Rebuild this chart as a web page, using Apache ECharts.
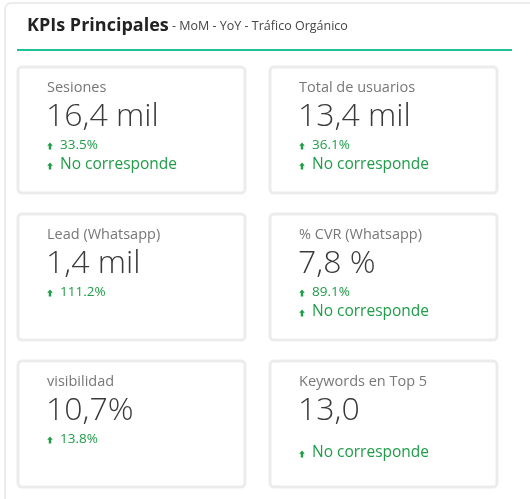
<!DOCTYPE html><html><head><meta charset="utf-8">
<script src="https://cdn.jsdelivr.net/npm/echarts@6/dist/echarts.min.js"></script>
<style>html,body{margin:0;background:#fff}#c{width:530px;height:499px}</style></head><body><div id="c"></div>
<script>
const labels=["Sesiones","Total de usuarios","Lead (Whatsapp)","% CVR (Whatsapp)","visibilidad","Keywords en Top 5"];
const values=["16,4 mil","13,4 mil","1,4 mil","7,8 %","10,7%","13,0"];
const changes=["33.5%","36.1%","111.2%","89.1%","13.8%",null];
const yoy=["No corresponde","No corresponde",null,"No corresponde",null,"No corresponde"];
const F="'Open Sans', sans-serif", G="#1f9d48";
const chart=echarts.init(document.getElementById('c'));
const els=[
 {type:'rect',shape:{x:5,y:3,width:540,height:520,r:6},style:{fill:'#fff',stroke:'#e6e6e6',lineWidth:1.5}},
 {type:'text',x:27,y:26,style:{text:'{b|KPIs Principales} {s|- MoM - YoY - Tráfico Orgánico}',verticalAlign:'middle',rich:{b:{fontFamily:F,fontWeight:'bold',fontSize:18,fill:'#222'},s:{fontFamily:F,fontSize:12.5,fill:'#444'}}}},
 {type:'rect',shape:{x:17,y:49,width:495,height:2},style:{fill:'#1cc39a'}}
];
function arrow(x,y,s){return {type:'polygon',shape:{points:[[x,y-s],[x+s*0.8,y-s*0.1],[x+s*0.35,y-s*0.1],[x+s*0.35,y+s],[x-s*0.35,y+s],[x-s*0.35,y-s*0.1],[x-s*0.8,y-s*0.1]]},style:{fill:G}};}
labels.forEach((l,i)=>{
 const col=i%2,row=Math.floor(i/2);
 const x0=col?270:18,y0=67+row*147,tx=x0+29;
 els.push({type:'rect',shape:{x:x0,y:y0,width:227,height:126,r:4},style:{fill:'#fff',stroke:'#ececec',lineWidth:3}});
 els.push({type:'text',x:tx,y:y0+21,style:{text:l,fontFamily:F,fontSize:14.5,fill:'#777',verticalAlign:'middle'}});
 els.push({type:'text',x:tx-1,y:y0+50,style:{text:values[i],fontFamily:F,fontWeight:300,fontSize:32,fill:'#3a3a3a',verticalAlign:'middle'}});
 if(changes[i]){els.push(arrow(tx+3,y0+79,3.5));els.push({type:'text',x:tx+13,y:y0+78,style:{text:changes[i],fontFamily:F,fontSize:13.5,fill:G,verticalAlign:'middle'}});}
 if(yoy[i]){const yy=changes[i]?y0+98:y0+92;els.push(arrow(tx+3,yy+1,3.5));els.push({type:'text',x:tx+13,y:yy,style:{text:yoy[i],fontFamily:F,fontSize:15.5,fill:G,verticalAlign:'middle'}});}
});
chart.setOption({animation:false,graphic:{elements:els}});
</script></body></html>
